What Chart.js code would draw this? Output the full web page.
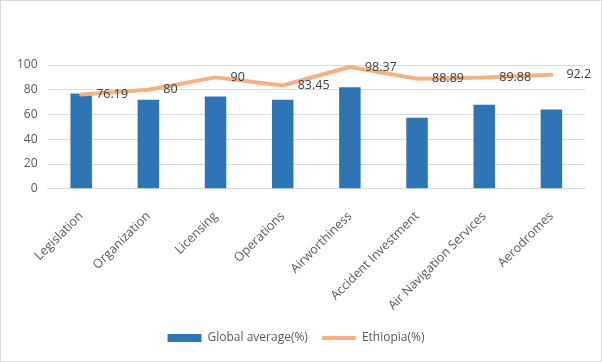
<!DOCTYPE html>
<html>
<head>
<meta charset="utf-8">
<script src="https://cdn.jsdelivr.net/npm/chart.js@4"></script>
<style>
  html, body { margin: 0; padding: 0; background: #fff; }
  #wrap {
    width: 602px; height: 362px; box-sizing: border-box;
    border: 1px solid #d9d9d9; position: relative;
  }
</style>
</head>
<body>
<div id="wrap"><canvas id="chart"></canvas></div>
<script>
  // ─── Data ────────────────────────────────────────────
  const categories = ['Legislation', 'Organization', 'Licensing', 'Operations',
    'Airworthiness', 'Accident Investment', 'Air Navigation Services', 'Aerodromes'];
  const globalAverage = [77, 72, 74.5, 72, 82, 57.5, 68, 64];
  const ethiopia = [76.19, 80, 90, 83.45, 98.37, 88.89, 89.88, 92.2];
  const yTicks = [0, 20, 40, 60, 80, 100];

  const FONT = "'Open Sans', 'Noto Sans', sans-serif";

  // Labels drawn to the right of each line point (like Excel "Right")
  const lineLabels = {
    id: 'lineLabels',
    afterDatasetsDraw(chart) {
      const ctx = chart.ctx;
      const meta = chart.getDatasetMeta(1);
      ctx.save();
      ctx.font = '12.5px ' + FONT;
      ctx.fillStyle = '#404040';
      ctx.textAlign = 'left';
      ctx.textBaseline = 'middle';
      meta.data.forEach((pt, i) => {
        ctx.fillText(String(ethiopia[i]), pt.x + 15, pt.y);
      });
      ctx.restore();
    }
  };

  // nudge the legend up a little, chart area stays where it is
  const legendNudge = {
    id: 'legendNudge',
    afterLayout(chart) {
      if (chart.legend) {
        chart.legend.top -= 7;
        chart.legend.bottom -= 7;
      }
    }
  };

  new Chart(document.getElementById('chart'), {
    data: {
      labels: categories,
      datasets: [
        {
          type: 'bar',
          label: 'Global average(%)',
          data: globalAverage,
          backgroundColor: '#2e75b6',
          borderWidth: 0,
          barPercentage: 0.32,
          categoryPercentage: 1,
          order: 1,
          pointStyle: 'rect'
        },
        {
          type: 'line',
          label: 'Ethiopia(%)',
          data: ethiopia,
          borderColor: '#f4b183',
          backgroundColor: '#f4b183',
          borderWidth: 4,
          borderCapStyle: 'round',
          borderJoinStyle: 'round',
          pointRadius: 0,
          tension: 0,
          fill: false,
          order: 0,
          pointStyle: 'line'
        }
      ]
    },
    options: {
      responsive: true,
      maintainAspectRatio: false,
      animation: false,
      layout: { padding: { top: 64, right: 16, left: 6, bottom: 0 } },
      plugins: {
        tooltip: { enabled: false },
        legend: {
          position: 'bottom',
          labels: {
            usePointStyle: true,
            pointStyleWidth: 34,
            boxHeight: 8,
            color: '#595959',
            font: { family: FONT, size: 12 },
            padding: 14,
            sort: (a, b) => a.datasetIndex - b.datasetIndex
          }
        }
      },
      scales: {
        x: {
          grid: { display: false },
          border: { display: true, color: '#d9d9d9' },
          ticks: {
            color: '#595959',
            font: { family: FONT, size: 12.5 },
            minRotation: 45,
            maxRotation: 45,
            autoSkip: false,
            padding: 12
          }
        },
        y: {
          min: 0,
          max: 100,
          afterBuildTicks: (axis) => { axis.ticks = yTicks.map(v => ({ value: v })); },
          grid: { color: '#d9d9d9', drawTicks: false },
          border: { display: false },
          ticks: {
            color: '#595959',
            font: { family: FONT, size: 12 },
            padding: 10
          }
        }
      }
    },
    plugins: [lineLabels, legendNudge]
  });
</script>
</body>
</html>
